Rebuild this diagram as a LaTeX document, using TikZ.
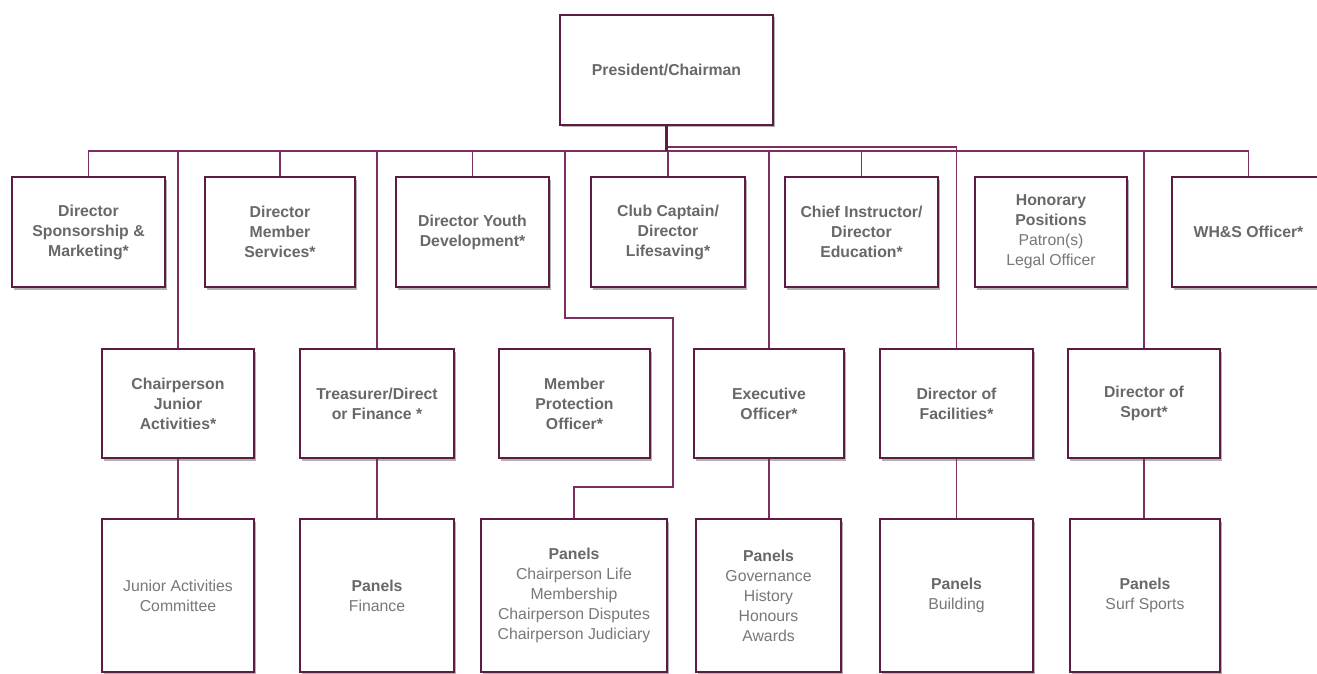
\documentclass[tikz,border=0pt]{standalone}
\usepackage{fontspec}
\setmainfont{Liberation Sans}
\usetikzlibrary{shadows}
\definecolor{boxc}{RGB}{92,28,68}
\definecolor{linec}{RGB}{125,45,95}
\definecolor{txt}{RGB}{104,104,104}
\definecolor{txtl}{RGB}{120,120,120}
\newcommand\lt[1]{{\mdseries\color{txtl}#1}}
\tikzset{
  orgbox/.style={draw=boxc, line width=1.7pt, fill=white, rectangle, align=center,
    text=txt, font=\fontsize{15.8}{20}\selectfont\bfseries, inner sep=2pt,
    drop shadow={shadow xshift=2pt, shadow yshift=-2.5pt, opacity=0.3, fill=black}},
  conn/.style={draw=linec, line width=1.5pt},
  stem/.style={draw=boxc, line width=3.5pt},
}
\begin{document}
\begin{tikzpicture}[x=1pt,y=-1pt]
\useasboundingbox (0,0) rectangle (1317,674);
% top
\node[orgbox, minimum width=213pt, minimum height=110pt] (pres) at (666.5,70) {President/Chairman};
% row 1
\node[orgbox, minimum width=153pt, minimum height=110pt] (spons) at (88.5,232) {Director\\Sponsorship \&\\Marketing*};
\node[orgbox, minimum width=150pt, minimum height=110pt] (memb) at (280,232) {Director\\Member\\Services*};
\node[orgbox, minimum width=153pt, minimum height=110pt] (youth) at (472.5,232) {Director Youth\\Development*};
\node[orgbox, minimum width=154pt, minimum height=110pt] (captain) at (668,232) {Club Captain/\\Director\\Lifesaving*};
\node[orgbox, minimum width=153pt, minimum height=110pt] (chief) at (861.5,232) {Chief Instructor/\\Director\\Education*};
\node[orgbox, minimum width=152pt, minimum height=110pt] (hon) at (1051,232) {Honorary\\Positions\\\lt{Patron(s)}\\\lt{Legal Officer}};
\node[orgbox, minimum width=153pt, minimum height=110pt] (whs) at (1248.5,232) {WH\&S Officer*};
% row 2
\node[orgbox, minimum width=152pt, minimum height=109pt] (junior) at (178,403.5) {Chairperson\\Junior\\Activities*};
\node[orgbox, minimum width=154pt, minimum height=109pt] (treas) at (377,403.5) {Treasurer/Direct\\or Finance *};
\node[orgbox, minimum width=151pt, minimum height=109pt] (mpo) at (574.5,403.5) {Member\\Protection\\Officer*};
\node[orgbox, minimum width=150pt, minimum height=109pt] (exec) at (769,403.5) {Executive\\Officer*};
\node[orgbox, minimum width=153pt, minimum height=109pt] (facil) at (956.5,403.5) {Director of\\Facilities*};
\node[orgbox, minimum width=152pt, minimum height=109pt] (sport) at (1144,403.5) {Director of\\Sport*};
% row 3
\node[orgbox, minimum width=152pt, minimum height=153pt] (jac) at (178,595.5) {\lt{Junior Activities}\\\lt{Committee}};
\node[orgbox, minimum width=154pt, minimum height=153pt] (pfin) at (377,595.5) {Panels\\\lt{Finance}};
\node[orgbox, minimum width=186pt, minimum height=153pt] (pchair) at (574,595.5) {Panels\\\lt{Chairperson Life}\\\lt{Membership}\\\lt{Chairperson Disputes}\\\lt{Chairperson Judiciary}};
\node[orgbox, minimum width=145pt, minimum height=153pt] (pgov) at (768.5,595.5) {Panels\\\lt{Governance}\\\lt{History}\\\lt{Honours}\\\lt{Awards}};
\node[orgbox, minimum width=153pt, minimum height=153pt] (pbuild) at (956.5,595.5) {Panels\\\lt{Building}};
\node[orgbox, minimum width=150pt, minimum height=153pt] (psurf) at (1145,595.5) {Panels\\\lt{Surf Sports}};
% bus coordinates
\coordinate (busL) at (0,151);
\coordinate (busH) at (0,147);
\coordinate (r1) at (565,151);
\coordinate (r2) at (565,318);
\coordinate (r3) at (673,318);
\coordinate (r4) at (673,487);
% connectors
\foreach \n in {spons,memb,youth,captain,chief,whs,junior,treas,exec,sport}
  \draw[conn] (pres.south |- busL) -| (\n.north);
\draw[conn] (pres.south |- busH) -| (facil.north);
\draw[conn] (pres.south |- busL) -- (r1) -- (r2) -- (r3) -- (r4) -| (pchair.north);
\draw[stem] (pres.south) -- (pres.south |- busL);
\draw[conn] (junior.south) -- (jac.north);
\draw[conn] (treas.south) -- (pfin.north);
\draw[conn] (exec.south) -- (exec.south |- pgov.north);
\draw[conn] (facil.south) -- (pbuild.north);
\draw[conn] (sport.south) -- (sport.south |- psurf.north);
\end{tikzpicture}
\end{document}
